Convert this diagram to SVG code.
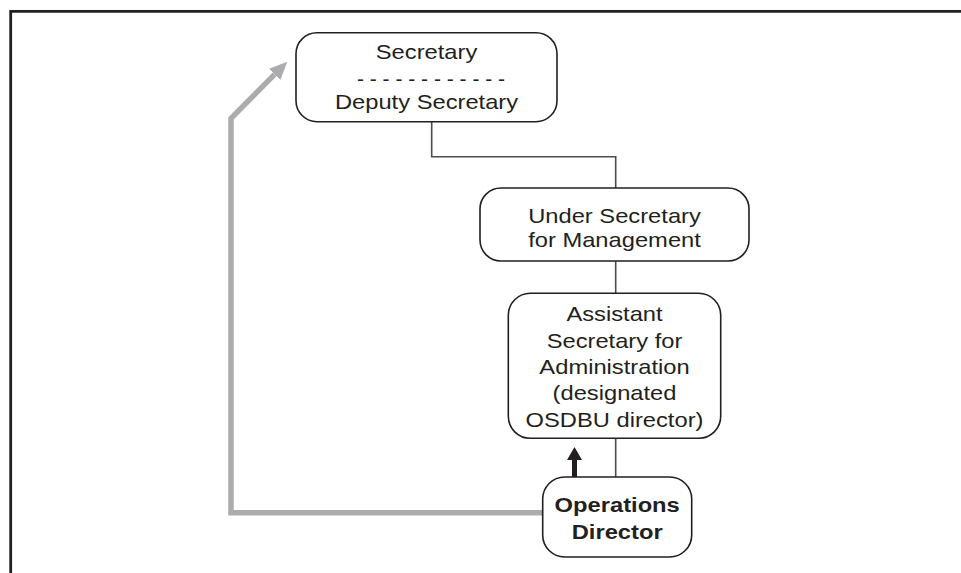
<svg xmlns="http://www.w3.org/2000/svg" width="961" height="573" viewBox="0 0 961 573">
<style>
.node{fill:#fff;stroke:#231f20;stroke-width:1.6}
.t{font-family:"Liberation Sans",Arial,sans-serif;font-size:21px;fill:#231f20;text-anchor:middle}
.b{font-weight:bold}
.conn{fill:none;stroke:#4d4d4f;stroke-width:1.6}
.gray{fill:none;stroke:#acacaf;stroke-width:5.5}
.blk{fill:none;stroke:#231f20;stroke-width:5}
</style>
<defs>
<marker id="headGray" markerUnits="userSpaceOnUse" viewBox="0 0 18 16" markerWidth="18" markerHeight="16" refX="0" refY="8" orient="auto"><path d="M0,0 L18,8 L0,16 z" fill="#acacaf"/></marker>
<marker id="headBlk" markerUnits="userSpaceOnUse" viewBox="0 0 13 15" markerWidth="13" markerHeight="15" refX="0" refY="7.5" orient="auto"><path d="M0,0 L13,7.5 L0,15 z" fill="#231f20"/></marker>
</defs>
<rect width="961" height="573" fill="#fff"/>
<g id="frame"><path d="M961,11.3 H10.7 V573" fill="none" stroke="#231f20" stroke-width="2.8"/></g>
<g id="connectors">
<path class="conn" d="M431.7,121.7 V156.7 H615.7 V188"/>
<path class="conn" d="M615.7,261 V293.3"/>
<path class="conn" d="M615.7,438.3 V477"/>
<path class="blk" d="M574.5,477 V460" marker-end="url(#headBlk)"/>
<path class="gray" d="M542.7,512.7 H231 V118.3 L274.6,74.4" marker-end="url(#headGray)"/>
</g>
<g id="secretary">
<rect class="node" x="296" y="32.7" width="261" height="89" rx="21"/>
<text class="t" x="431" y="86">- - - - - - - - - - - -</text>
<g transform="translate(426.5,0) scale(1.13,1)">
<text class="t" x="0" y="59">Secretary</text>
<text class="t" x="0" y="109">Deputy Secretary</text>
</g>
</g>
<g id="under-secretary">
<rect class="node" x="480" y="188" width="269" height="73" rx="21"/>
<g transform="translate(614.5,0) scale(1.13,1)">
<text class="t" x="0" y="222.7">Under Secretary</text>
<text class="t" x="0" y="246.7">for Management</text>
</g>
</g>
<g id="assistant-secretary">
<rect class="node" x="508.3" y="293.3" width="212.4" height="145" rx="22"/>
<g transform="translate(614.5,0) scale(1.13,1)">
<text class="t" x="0" y="320.7">Assistant</text>
<text class="t" x="0" y="348">Secretary for</text>
<text class="t" x="0" y="374.5">Administration</text>
<text class="t" x="0" y="400">(designated</text>
<text class="t" x="0" y="426.7">OSDBU director)</text>
</g>
</g>
<g id="operations-director">
<rect class="node" x="542.7" y="477" width="149" height="80" rx="22"/>
<g transform="translate(617.2,0) scale(1.13,1)">
<text class="t b" x="0" y="511.7">Operations</text>
<text class="t b" x="0" y="539.3">Director</text>
</g>
</g>
</svg>
